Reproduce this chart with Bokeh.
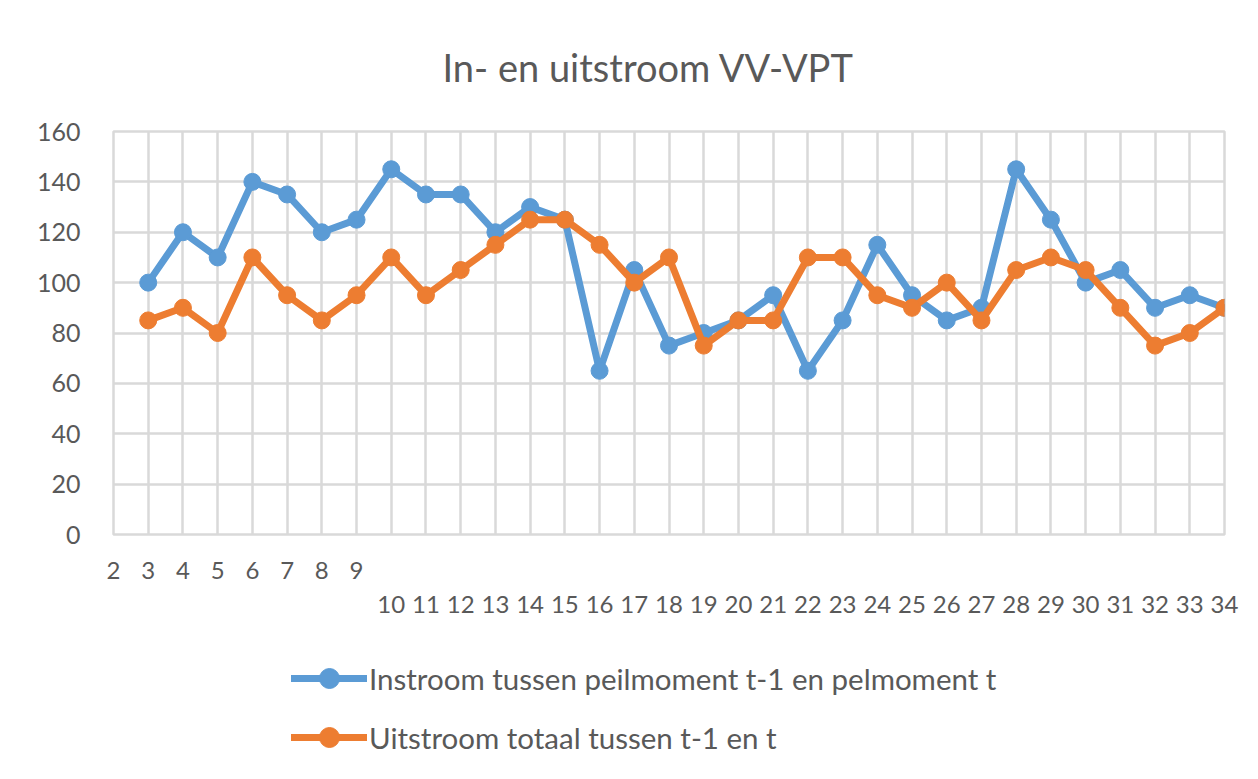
from bokeh.plotting import figure
from bokeh.layouts import column
from bokeh.models import (LinearAxis, FixedTicker, Legend, LegendItem, Range1d,
                          ColumnDataSource)
from bokeh.embed import file_html
from bokeh.resources import INLINE

# ---- data -------------------------------------------------------------
title_text = "In- en uitstroom VV-VPT"
axis_categories = [2, 3, 4, 5, 6, 7, 8, 9, 10, 11, 12, 13, 14, 15, 16, 17, 18,
                   19, 20, 21, 22, 23, 24, 25, 26, 27, 28, 29, 30, 31, 32, 33, 34]
upper_row_labels = [2, 3, 4, 5, 6, 7, 8, 9]
lower_row_labels = [10, 11, 12, 13, 14, 15, 16, 17, 18, 19, 20, 21, 22, 23, 24,
                    25, 26, 27, 28, 29, 30, 31, 32, 33, 34]
y_ticks = [0, 20, 40, 60, 80, 100, 120, 140, 160]

periods = [3, 4, 5, 6, 7, 8, 9, 10, 11, 12, 13, 14, 15, 16, 17, 18, 19, 20, 21,
           22, 23, 24, 25, 26, 27, 28, 29, 30, 31, 32, 33, 34]
instroom = [100, 120, 110, 140, 135, 120, 125, 145, 135, 135, 120, 130, 125, 65,
            105, 75, 80, 85, 95, 65, 85, 115, 95, 85, 90, 145, 125, 100, 105, 90,
            95, 90]
uitstroom = [85, 90, 80, 110, 95, 85, 95, 110, 95, 105, 115, 125, 125, 115, 100,
             110, 75, 85, 85, 110, 110, 95, 90, 100, 85, 105, 110, 105, 90, 75,
             80, 90]
series_names = ["Instroom tussen peilmoment t-1 en pelmoment t",
                "Uitstroom totaal tussen t-1 en t"]
series_colors = ["#5B9BD5", "#ED7D31"]

FONT = "Lato"
TXT = "#595959"
GRID = "#D9D9D9"

W = 1258
TOP_H = 625
LEG_H = 154

# ---- chart figure ------------------------------------------------------
p = figure(frame_width=1111, frame_height=403, output_backend="svg",
           toolbar_location=None,
           x_range=Range1d(axis_categories[0], axis_categories[-1]),
           y_range=Range1d(y_ticks[0], y_ticks[-1]),
           x_axis_location=None,
           min_border_left=113, min_border_right=W - 113 - 1111,
           min_border_top=131, min_border_bottom=TOP_H - 131 - 403)
p.outline_line_color = GRID
p.outline_line_width = 2.5
p.background_fill_color = "white"
p.border_fill_color = "white"

p.title.text = title_text
p.title.text_font = FONT
p.title.text_font_size = "38px"
p.title.text_font_style = "normal"
p.title.text_color = TXT
p.title.align = "left"
p.title.offset = 329
p.title.standoff = 83

# y axis
ya = p.yaxis[0]
ya.ticker = FixedTicker(ticks=y_ticks)
ya.axis_line_color = None
ya.major_tick_line_color = None
ya.minor_tick_line_color = None
ya.major_tick_out = 0
ya.major_label_standoff = 33
ya.major_label_text_font = FONT
ya.major_label_text_font_size = "25px"
ya.major_label_text_color = TXT

# two staggered x axes (Excel put 2-9 on a higher row)
for ticks, standoff in ((upper_row_labels, 27), (lower_row_labels, 14)):
    ax = LinearAxis(ticker=FixedTicker(ticks=ticks))
    ax.axis_line_color = None
    ax.major_tick_line_color = None
    ax.minor_tick_line_color = None
    ax.major_tick_out = 0
    ax.major_label_standoff = standoff
    ax.major_label_text_font = FONT
    ax.major_label_text_font_size = "24px"
    ax.major_label_text_color = TXT
    p.add_layout(ax, "below")

# grid
p.ygrid.ticker = FixedTicker(ticks=y_ticks)
p.ygrid.grid_line_color = GRID
p.ygrid.grid_line_width = 2.5
p.xgrid.ticker = FixedTicker(ticks=axis_categories)
p.xgrid.grid_line_color = GRID
p.xgrid.grid_line_width = 2.5

# ---- legend strip (same series, styled identically, kept out of view) ----
q = figure(width=W, height=LEG_H, output_backend="svg", toolbar_location=None,
           x_range=Range1d(-1, 0), y_range=Range1d(-1, 0),
           x_axis_location=None, y_axis_location=None,
           min_border_left=0, min_border_right=0,
           min_border_top=0, min_border_bottom=0)
q.outline_line_color = None
q.grid.visible = False
q.background_fill_color = "white"
q.border_fill_color = "white"

items = []
for name, vals, col in zip(series_names, [instroom, uitstroom], series_colors):
    for fig in (p, q):
        src = ColumnDataSource(dict(x=periods, y=vals))
        ln = fig.line("x", "y", source=src, line_color=col, line_width=7,
                      line_join="round", line_cap="round")
        sc = fig.scatter("x", "y", source=src, size=17, fill_color=col,
                         line_color=col, marker="circle")
    items.append(LegendItem(label=name, renderers=[ln, sc]))

legend = Legend(items=items, location=(178, 17), orientation="vertical",
                glyph_width=76, glyph_height=50, label_standoff=2,
                spacing=9, padding=0, margin=0,
                label_text_font=FONT, label_text_font_size="29.5px",
                label_text_color=TXT, border_line_color=None,
                background_fill_alpha=0)
q.add_layout(legend, "center")

open("out.html", "w").write(file_html(column(p, q, spacing=0), INLINE))
